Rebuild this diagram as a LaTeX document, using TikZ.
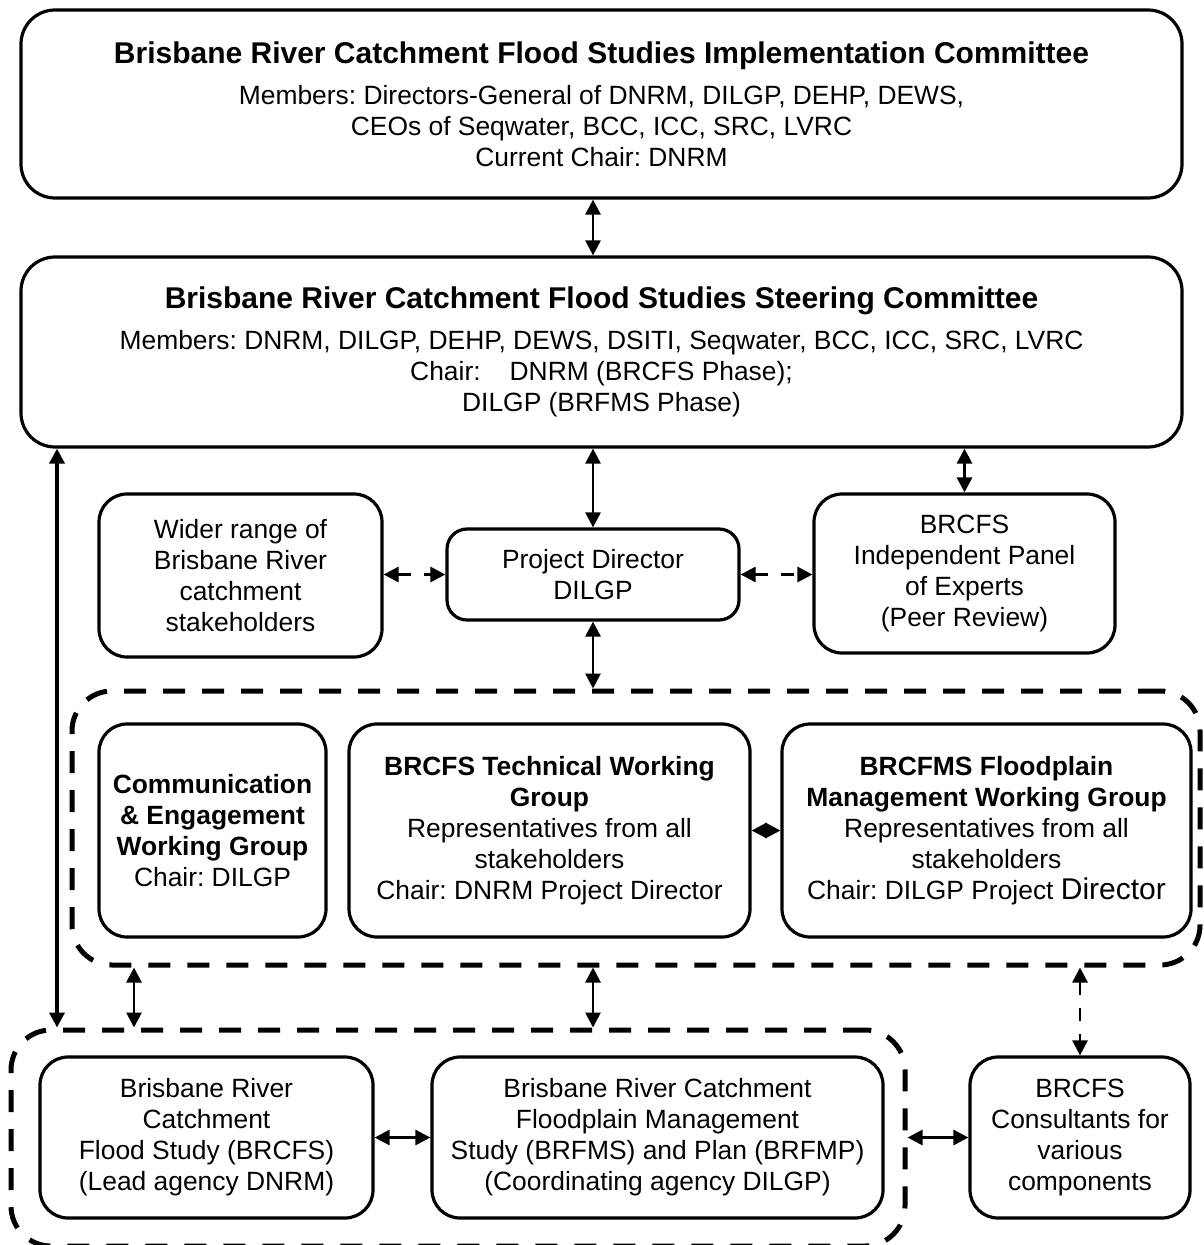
\documentclass[tikz,border=0pt]{standalone}
\usepackage{fontspec}
\setmainfont{Liberation Sans}
\usetikzlibrary{arrows.meta}
\frenchspacing

\begin{document}
\begin{tikzpicture}[x=0.5pt, y=-0.5pt,
  every node/.style={align=center, font=\fontsize{13.2}{15.5}\selectfont},
  box/.style={draw, line width=1.6pt, rounded corners=10pt, inner sep=0pt},
  bigbox/.style={box, rounded corners=17pt},
  grp/.style={draw, line width=2.5pt, dash pattern=on 11pt off 8.5pt, rounded corners=20pt, inner sep=0pt},
  link/.style={line width=1.4pt, {Triangle[length=7.5pt,width=7.5pt]}-{Triangle[length=7.5pt,width=7.5pt]}},
  dlink/.style={link, dash pattern=on 6.5pt off 6.5pt}]
\useasboundingbox (0,0) rectangle (1203,1245);

\node[bigbox, minimum width=580.5pt, minimum height=94pt] (impl) at (601.5,104)
  {{\fontsize{15}{18}\selectfont\bfseries Brisbane River Catchment Flood Studies Implementation Committee}\\[5pt]
   Members: Directors-General of DNRM, DILGP, DEHP, DEWS,\\
   CEOs of Seqwater, BCC, ICC, SRC, LVRC\\
   Current Chair: DNRM};
\node[bigbox, minimum width=580.5pt, minimum height=95pt] (steer) at (601.5,352)
  {{\fontsize{15}{18}\selectfont\bfseries Brisbane River Catchment Flood Studies Steering Committee}\\[5pt]
   Members: DNRM, DILGP, DEHP, DEWS, DSITI, Seqwater, BCC, ICC, SRC, LVRC\\
   Chair:\hspace{1.1em}DNRM (BRCFS Phase);\\
   DILGP (BRFMS Phase)};

\node[box, rounded corners=14pt, minimum width=141.5pt, minimum height=81.5pt] (wider) at (240.5,575.5)
  {Wider range of\\Brisbane River\\catchment\\stakeholders};
\node[box, minimum width=146pt, minimum height=45.5pt] (pd) at (593,574.5)
  {Project Director\\DILGP};
\node[box, rounded corners=14pt, minimum width=150.5pt, minimum height=79.5pt] (panel) at (964.5,573.5)
  {BRCFS\\Independent Panel\\of Experts\\(Peer Review)};

% working groups
\node[grp, minimum width=564pt, minimum height=137pt] (wg) at (636,828) {};
\node[box, rounded corners=14pt, minimum width=113.5pt, minimum height=106.5pt] (comm) at (212.5,830.5)
  {\bfseries Communication\\\bfseries \& Engagement\\\bfseries Working Group\\Chair: DILGP};
\node[box, rounded corners=14pt, minimum width=200.5pt, minimum height=106.5pt] (tech) at (549.5,830.5)
  {\bfseries BRCFS Technical Working\\\bfseries Group\\Representatives from all\\stakeholders\\Chair: DNRM Project Director};
\node[box, rounded corners=14pt, minimum width=204.5pt, minimum height=106.5pt] (flood) at (986.5,830.5)
  {\bfseries BRCFMS Floodplain\\\bfseries Management Working Group\\Representatives from all\\stakeholders\\Chair: DILGP Project {\fontsize{15}{15.5}\selectfont Director}};

% studies
\node[grp, minimum width=447pt, minimum height=108pt] (study) at (458,1138) {};
\node[box, rounded corners=14pt, minimum width=166.5pt, minimum height=80.5pt] (brcfs) at (206.5,1137.5)
  {Brisbane River\\Catchment\\Flood Study (BRCFS)\\(Lead agency DNRM)};
\node[box, rounded corners=14pt, minimum width=225.5pt, minimum height=80.5pt] (brfms) at (657.5,1137.5)
  {Brisbane River Catchment\\Floodplain Management\\Study (BRFMS) and Plan (BRFMP)\\(Coordinating agency DILGP)};
\node[box, rounded corners=14pt, minimum width=110pt, minimum height=80.5pt] (consult) at (1080,1137.5)
  {BRCFS\\Consultants for\\various\\components};

\coordinate (lft) at (57,0);
\coordinate (mid) at (134,0);

\draw[link] (impl.south -| pd.north) -- (steer.north -| pd.north);
\draw[link] (steer.south -| pd.north) -- (pd.north);
\draw[link] (steer.south -| panel.north) -- (panel.north);
\draw[dlink] (wider.east |- pd.west) -- (pd.west);
\draw[dlink] (pd.east) -- (pd.east -| panel.west);
\draw[link] (pd.south) -- (pd.south |- wg.north);
\draw[link] (tech.east) -- (flood.west);
\draw[link, line width=2.2pt] (steer.south -| lft) -- (study.north -| lft);
\draw[link] (wg.south -| mid) -- (study.north -| mid);
\draw[link] (wg.south -| pd.south) -- (study.north -| pd.south);
\draw[dlink] (wg.south -| consult.north) -- (consult.north);
\draw[link] (brcfs.east) -- (brfms.west);
\draw[link] (study.east |- consult.west) -- (consult.west);
\end{tikzpicture}
\end{document}
